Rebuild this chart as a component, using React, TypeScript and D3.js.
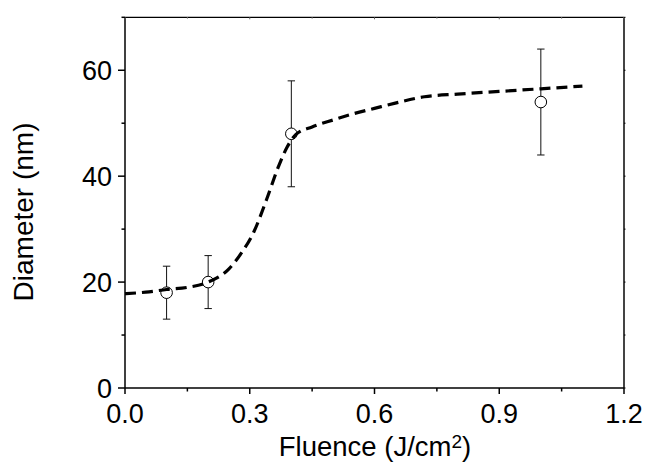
import React from "react";
import * as d3 from "d3";

const pointX = [0.1, 0.2, 0.4, 1.0];
const pointY = [18, 20, 48, 54];
const pointErr = [5, 5, 10, 10];

const curveX = [0, 0.05, 0.1, 0.15, 0.2, 0.25, 0.28, 0.31, 0.34, 0.37, 0.39, 0.41, 0.45, 0.5, 0.55, 0.6, 0.65, 0.72, 0.8, 0.9, 1.0, 1.1];
const curveY = [17.8, 18.1, 18.6, 19.0, 20.0, 22.5, 25.5, 29.5, 35.5, 42.0, 45.5, 47.8, 49.3, 50.6, 51.8, 52.8, 53.8, 55.0, 55.5, 56.0, 56.5, 57.0];

const xTicks = [0, 0.3, 0.6, 0.9, 1.2];
const xTickLabels = ["0.0", "0.3", "0.6", "0.9", "1.2"];
const xMinorTicks = [0.15, 0.45, 0.75, 1.05];
const yTicks = [0, 20, 40, 60];
const yMinorTicks = [10, 30, 50, 70];

const W = 645;
const H = 464;
const left = 125;
const right = 624;
const top = 17.3;
const bottom = 388;

export default function App() {
  const x = d3.scaleLinear().domain([0, 1.2]).range([left, right]);
  const y = d3.scaleLinear().domain([0, 70]).range([bottom, top]);
  const line = d3
    .line<number>()
    .x((_, i) => x(curveX[i]))
    .y((d) => y(d))
    .curve(d3.curveMonotoneX);
  const font = "Liberation Sans, Arial, sans-serif";
  return (
    <svg
      width={W}
      height={H}
      style={{ position: "absolute", left: 0, top: 0, background: "#fff" }}
    >
      <rect x={0} y={0} width={W} height={H} fill="#fff" />
      {/* frame */}
      <line x1={left} x2={right} y1={top} y2={top} stroke="#000" strokeWidth={1.3} />
      <line x1={right} x2={right} y1={top} y2={bottom} stroke="#444" strokeWidth={2} />
      <line x1={left} x2={left} y1={top} y2={bottom} stroke="#000" strokeWidth={1.5} />
      <line x1={left} x2={right} y1={bottom} y2={bottom} stroke="#000" strokeWidth={1.5} />
      {/* x ticks */}
      {xTicks.map((t, i) => (
        <g key={"xt" + i}>
          <line x1={x(t)} x2={x(t)} y1={bottom} y2={bottom + 6} stroke="#000" strokeWidth={1.5} />
          <line x1={x(t)} x2={x(t)} y1={top} y2={top + 2} stroke="#666" strokeWidth={1} />
          <text
            x={x(t)}
            y={423}
            textAnchor="middle"
            fontFamily={font}
            fontSize={27}
            fill="#000"
          >
            {xTickLabels[i]}
          </text>
        </g>
      ))}
      {xMinorTicks.map((t, i) => (
        <g key={"xm" + i}>
          <line x1={x(t)} x2={x(t)} y1={bottom} y2={bottom + 3.5} stroke="#000" strokeWidth={1.5} />
          <line x1={x(t)} x2={x(t)} y1={top} y2={top + 1.5} stroke="#888" strokeWidth={1} />
        </g>
      ))}
      {/* y ticks */}
      {yTicks.map((t, i) => (
        <g key={"yt" + i}>
          <line x1={left - 7} x2={left} y1={y(t)} y2={y(t)} stroke="#000" strokeWidth={1.5} />
          <line x1={right} x2={right + 1.5} y1={y(t)} y2={y(t)} stroke="#000" strokeWidth={1} />
          <text
            x={112}
            y={y(t) + 9.5}
            textAnchor="end"
            fontFamily={font}
            fontSize={27}
            fill="#000"
          >
            {t}
          </text>
        </g>
      ))}
      {yMinorTicks.map((t, i) => (
        <g key={"ym" + i}>
          <line x1={left - 3.5} x2={left} y1={y(t)} y2={y(t)} stroke="#000" strokeWidth={1.5} />
          <line x1={right} x2={right + 1.5} y1={y(t)} y2={y(t)} stroke="#000" strokeWidth={1} />
        </g>
      ))}
      {/* error bars */}
      {pointX.map((px, i) => {
        const cx = x(px);
        const y1 = y(pointY[i] - pointErr[i]);
        const y2 = y(pointY[i] + pointErr[i]);
        return (
          <g key={"e" + i} stroke="#111" strokeWidth={1}>
            <line x1={cx} x2={cx} y1={y1} y2={y2} />
            <line x1={cx - 3.7} x2={cx + 3.7} y1={y1} y2={y1} />
            <line x1={cx - 3.7} x2={cx + 3.7} y1={y2} y2={y2} />
          </g>
        );
      })}
      {/* points */}
      {pointX.map((px, i) => (
        <circle
          key={"p" + i}
          cx={x(px)}
          cy={y(pointY[i])}
          r={5.8}
          fill="#fff"
          stroke="#000"
          strokeWidth={1}
        />
      ))}
      {/* fitted curve */}
      <path
        d={line(curveY) || ""}
        fill="none"
        stroke="#000"
        strokeWidth={3.2}
        strokeDasharray="11,6"
      />
      {/* axis titles */}
      <text
        x={375}
        y={456}
        textAnchor="middle"
        fontFamily={font}
        fontSize={27.5}
        fill="#000"
      >
        Fluence (J/cm
        <tspan fontSize={19} dy={-8}>2</tspan>
        <tspan dy={8}>)</tspan>
      </text>
      <text
        transform={`translate(33, 212) rotate(-90)`}
        textAnchor="middle"
        fontFamily={font}
        fontSize={28}
        fill="#000"
      >
        Diameter (nm)
      </text>
    </svg>
  );
}
